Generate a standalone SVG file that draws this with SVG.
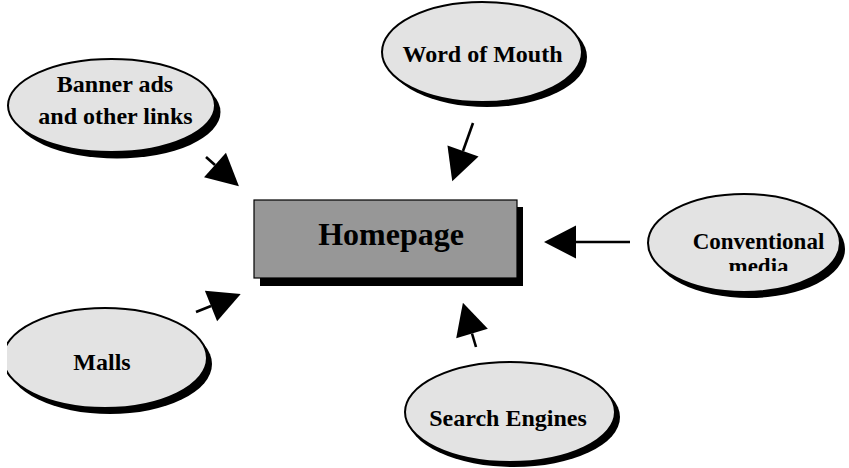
<svg xmlns="http://www.w3.org/2000/svg" width="849" height="468" viewBox="0 0 849 468">
<style>
.bg{fill:#ffffff}
.ell{fill:#e3e3e3;stroke:#000;stroke-width:2}
.shd{fill:#000}
.rect{fill:#979797;stroke:#000;stroke-width:1.2}
.lbl{font-family:"Liberation Serif","Times New Roman",serif;font-weight:bold;font-size:24px;fill:#000;text-anchor:middle}
.big{font-size:32px}
.conn line{stroke:#000;stroke-width:2.6;fill:none;marker-end:url(#ah)}
</style>
<defs>
<marker id="ah" markerUnits="userSpaceOnUse" markerWidth="34" markerHeight="36" refX="0" refY="16.5" orient="auto" overflow="visible">
<path d="M0,0 L32,16.5 L0,33 Z" fill="#000"/>
</marker>
<clipPath id="clipMalls"><rect x="7" y="280" width="260" height="160"/></clipPath>
<clipPath id="clipMedia"><rect x="640" y="190" width="209" height="81"/></clipPath>
</defs>
<rect class="bg" x="0" y="0" width="849" height="468"/>

<g id="homepage">
<rect class="shd" x="260" y="207" width="263" height="79"/>
<rect class="rect" x="254" y="200" width="263" height="78"/>
<text class="lbl big" x="391" y="245">Homepage</text>
</g>

<g id="banner">
<ellipse class="shd" cx="117" cy="112" rx="103.5" ry="46.5"/>
<ellipse class="ell" cx="111.5" cy="105.5" rx="103.5" ry="46.5"/>
<text class="lbl" x="115" y="92">Banner ads</text>
<text class="lbl" x="115.5" y="124">and other links</text>
</g>

<g id="word-of-mouth">
<ellipse class="shd" cx="487" cy="57" rx="100" ry="50"/>
<ellipse class="ell" cx="482" cy="52" rx="100" ry="50"/>
<text class="lbl" x="482.5" y="62">Word of Mouth</text>
</g>

<g id="conventional-media">
<ellipse class="shd" cx="749" cy="249" rx="96" ry="49"/>
<ellipse class="ell" cx="744" cy="243" rx="96" ry="49"/>
<text class="lbl" x="758.5" y="249" style="font-size:23px">Conventional</text>
<text class="lbl" x="758.5" y="274" style="font-size:23px" clip-path="url(#clipMedia)">media</text>
</g>

<g id="malls" clip-path="url(#clipMalls)">
<ellipse class="shd" cx="110" cy="364" rx="102" ry="50"/>
<ellipse class="ell" cx="105" cy="358" rx="102" ry="50"/>
<text class="lbl" x="102" y="370">Malls</text>
</g>

<g id="search-engines">
<ellipse class="shd" cx="514" cy="417" rx="106" ry="50"/>
<ellipse class="ell" cx="510" cy="412" rx="105" ry="50"/>
<text class="lbl" x="508" y="426">Search Engines</text>
</g>

<g id="connectors" class="conn">
<line x1="206" y1="157" x2="215" y2="165"/>
<line x1="473" y1="123" x2="463" y2="151"/>
<line x1="630" y1="242" x2="576" y2="242"/>
<line x1="196" y1="312" x2="211" y2="306"/>
<line x1="476" y1="347" x2="472" y2="333.5"/>
</g>
</svg>
